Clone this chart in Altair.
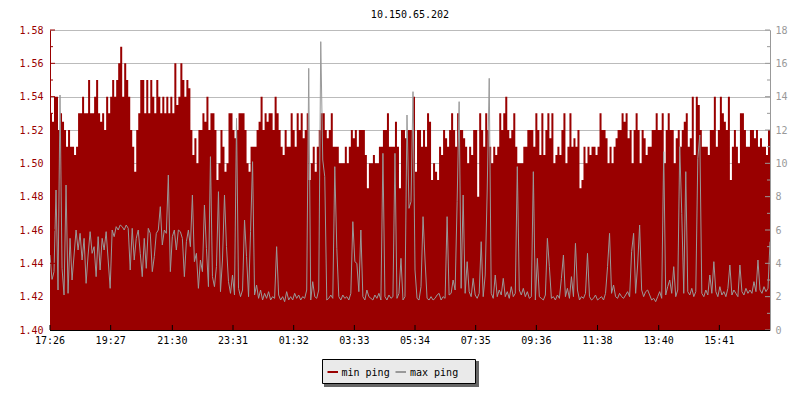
import altair as alt
import pandas as pd

# ---------------- data ----------------
title_text = "10.150.65.202"
series_names = ["min ping", "max ping"]
tick_labels = ["17:26", "19:27", "21:30", "23:31", "01:32", "03:33",
               "05:34", "07:35", "09:36", "11:38", "13:40", "15:41"]
start_time = "2024-01-01 17:26"
step_minutes = 4
left_major = [1.40, 1.42, 1.44, 1.46, 1.48, 1.50, 1.52, 1.54, 1.56, 1.58]
left_minor = [1.41, 1.43, 1.45, 1.47, 1.49, 1.51, 1.53, 1.55, 1.57]
right_major = [0, 2, 4, 6, 8, 10, 12, 14, 16, 18]
right_minor = [1, 3, 5, 7, 9, 11, 13, 15, 17]

min_ping = [
    1.53, 1.525, 1.54, 1.54, 1.52, 1.53, 1.525, 1.52, 1.51, 1.52, 1.51, 1.51, 1.505, 1.51, 1.53, 1.53, 1.54, 1.53, 1.53, 1.55,
    1.53, 1.53, 1.54, 1.55, 1.53, 1.525, 1.53, 1.52, 1.54, 1.53, 1.54, 1.55, 1.54, 1.55, 1.56, 1.57, 1.54, 1.56, 1.55, 1.54,
    1.52, 1.51, 1.495, 1.52, 1.53, 1.55, 1.55, 1.53, 1.55, 1.53, 1.55, 1.54, 1.53, 1.55, 1.54, 1.53, 1.54, 1.53, 1.54, 1.53,
    1.54, 1.53, 1.56, 1.535, 1.54, 1.56, 1.55, 1.54, 1.55, 1.545, 1.52, 1.505, 1.515, 1.50, 1.52, 1.52, 1.53, 1.525, 1.54, 1.52,
    1.53, 1.53, 1.52, 1.49, 1.50, 1.52, 1.51, 1.495, 1.50, 1.53, 1.53, 1.52, 1.515, 1.52, 1.53, 1.53, 1.53, 1.52, 1.50, 1.495,
    1.51, 1.51, 1.51, 1.52, 1.525, 1.54, 1.52, 1.53, 1.525, 1.53, 1.53, 1.52, 1.54, 1.53, 1.52, 1.51, 1.505, 1.52, 1.51, 1.51,
    1.53, 1.52, 1.51, 1.53, 1.52, 1.53, 1.515, 1.52, 1.53, 1.49, 1.50, 1.51, 1.495, 1.51, 1.52, 1.53, 1.53, 1.52, 1.515, 1.52,
    1.53, 1.51, 1.51, 1.51, 1.50, 1.50, 1.50, 1.51, 1.50, 1.51, 1.52, 1.515, 1.52, 1.51, 1.52, 1.52, 1.52, 1.505, 1.485, 1.50,
    1.50, 1.505, 1.50, 1.50, 1.51, 1.51, 1.52, 1.52, 1.53, 1.51, 1.51, 1.51, 1.525, 1.51, 1.485, 1.52, 1.52, 1.515, 1.52, 1.52,
    1.52, 1.54, 1.495, 1.52, 1.52, 1.51, 1.52, 1.51, 1.53, 1.525, 1.49, 1.50, 1.495, 1.49, 1.51, 1.505, 1.52, 1.515, 1.51, 1.52,
    1.53, 1.52, 1.51, 1.53, 1.52, 1.52, 1.515, 1.51, 1.50, 1.51, 1.505, 1.52, 1.52, 1.48, 1.53, 1.52, 1.51, 1.53, 1.52, 1.51,
    1.50, 1.51, 1.505, 1.51, 1.53, 1.52, 1.53, 1.54, 1.52, 1.515, 1.52, 1.53, 1.51, 1.50, 1.50, 1.50, 1.51, 1.51, 1.52, 1.52,
    1.52, 1.51, 1.53, 1.52, 1.505, 1.53, 1.505, 1.52, 1.53, 1.515, 1.53, 1.50, 1.505, 1.51, 1.505, 1.52, 1.53, 1.50, 1.51, 1.53,
    1.51, 1.515, 1.51, 1.52, 1.485, 1.49, 1.51, 1.50, 1.51, 1.505, 1.51, 1.51, 1.505, 1.51, 1.53, 1.52, 1.52, 1.515, 1.50, 1.51,
    1.50, 1.51, 1.515, 1.52, 1.52, 1.53, 1.525, 1.53, 1.515, 1.52, 1.50, 1.52, 1.53, 1.52, 1.50, 1.52, 1.515, 1.505, 1.51, 1.51,
    1.52, 1.52, 1.53, 1.52, 1.52, 1.53, 1.50, 1.52, 1.53, 1.52, 1.52, 1.50, 1.515, 1.52, 1.51, 1.52, 1.525, 1.53, 1.51, 1.515,
    1.54, 1.505, 1.54, 1.535, 1.52, 1.51, 1.51, 1.51, 1.505, 1.52, 1.52, 1.54, 1.51, 1.52, 1.54, 1.53, 1.525, 1.52, 1.54, 1.49,
    1.51, 1.52, 1.51, 1.50, 1.53, 1.53, 1.52, 1.51, 1.51, 1.52, 1.52, 1.515, 1.52, 1.51, 1.515, 1.51, 1.51, 1.505, 1.52, 1.52,
]

max_ping = [
    4.5, 3.0, 3.5, 8.4, 2.4, 14.1, 3.7, 2.1, 8.7, 2.2, 5.5, 3.0, 4.5, 6.0, 4.8, 5.8, 4.2, 5.5, 2.8, 4.5,
    5.9, 4.6, 5.0, 3.2, 5.6, 3.6, 5.5, 4.8, 5.9, 4.2, 2.5, 6.0, 5.6, 6.2, 6.0, 6.3, 6.2, 6.0, 6.3, 6.1,
    3.6, 6.1, 4.2, 5.5, 6.0, 4.6, 3.2, 5.5, 3.7, 6.1, 5.8, 3.5, 4.4, 5.8, 6.0, 7.4, 5.1, 6.0, 5.8, 9.3,
    3.5, 5.6, 6.0, 4.8, 6.0, 5.9, 5.5, 3.2, 5.3, 6.0, 5.0, 8.1, 4.1, 4.6, 2.5, 4.2, 3.5, 7.5, 4.9, 2.6,
    10.4, 3.2, 2.6, 3.8, 8.3, 2.3, 4.2, 8.1, 5.0, 2.9, 2.2, 3.3, 2.1, 12.7, 2.5, 2.0, 2.4, 6.6, 4.4, 2.0,
    5.9, 10.1, 2.1, 2.7, 1.9, 2.4, 1.8, 2.2, 1.9, 2.3, 1.8, 2.0, 1.9, 5.0, 2.1, 1.8, 2.0, 1.7, 2.3, 1.8,
    2.0, 1.8, 2.2, 1.9, 2.1, 1.8, 2.0, 1.9, 2.4, 15.7, 1.8, 2.9, 2.0, 1.9, 2.4, 17.3, 10.2, 9.2, 1.8, 1.9,
    2.1, 1.9, 9.8, 4.9, 2.0, 1.8, 2.1, 1.9, 2.0, 1.8, 2.2, 6.5, 4.1, 4.0, 2.3, 6.0, 2.0, 1.8, 2.4, 2.0,
    1.9, 1.8, 2.1, 1.9, 2.2, 1.8, 10.6, 2.0, 1.8, 2.1, 1.9, 2.0, 10.6, 1.9, 2.2, 4.3, 1.8, 2.0, 12.9, 7.3,
    7.7, 14.3, 3.6, 1.9, 1.8, 2.6, 6.8, 4.2, 1.9, 1.8, 2.0, 1.8, 1.9, 2.1, 2.2, 1.8, 2.0, 1.9, 6.8, 2.1,
    2.2, 3.0, 2.4, 7.7, 13.7, 2.5, 8.1, 2.2, 4.1, 2.3, 2.0, 3.1, 2.1, 1.9, 2.2, 5.3, 2.0, 3.3, 8.4, 15.1,
    2.2, 1.9, 3.3, 2.0, 2.4, 2.1, 3.1, 2.0, 2.3, 1.9, 2.6, 2.0, 2.2, 9.8, 2.4, 2.1, 2.5, 2.0, 2.3, 1.9,
    2.0, 9.5, 1.8, 4.3, 2.0, 1.9, 1.8, 2.1, 5.5, 3.8, 1.9, 2.0, 1.8, 2.1, 1.9, 3.1, 4.5, 2.0, 2.5, 1.9,
    3.2, 2.0, 5.2, 2.4, 1.8, 2.0, 1.9, 2.2, 4.6, 2.0, 1.8, 1.9, 2.1, 1.8, 1.9, 2.0, 1.8, 2.2, 3.8, 5.8,
    2.2, 2.7, 2.0, 1.9, 2.2, 2.0, 1.9, 2.1, 2.3, 2.0, 4.7, 5.8, 2.2, 3.9, 6.3, 2.4, 2.0, 2.3, 2.4, 2.1,
    1.8, 1.9, 1.7, 2.0, 2.3, 1.9, 10.7, 2.1, 2.6, 3.0, 2.2, 3.8, 2.0, 2.4, 11.0, 7.0, 2.2, 9.5, 2.3, 2.1,
    2.5, 2.0, 2.3, 10.3, 11.7, 2.2, 2.0, 2.4, 2.1, 3.3, 2.2, 4.1, 2.3, 2.0, 2.6, 2.1, 2.3, 2.0, 2.5, 3.9,
    2.1, 2.4, 2.2, 2.0, 3.9, 2.3, 2.1, 2.5, 2.2, 2.4, 2.2, 2.9, 2.3, 4.2, 2.4, 2.2, 2.6, 2.3, 2.5, 5.3,
]

# ---------------- helpers ----------------
start = pd.Timestamp(start_time)
times = [start + pd.Timedelta(minutes=step_minutes * i) for i in range(len(min_ping))]
end = times[-1]
FMT = "%Y-%m-%dT%H:%M:%S"


def tick_time(label):
    h, m = label.split(":")
    off = (int(h) * 60 + int(m) - (start.hour * 60 + start.minute)) % 1440
    return start + pd.Timedelta(minutes=off)


def as_dt(ts):
    return alt.DateTime(year=ts.year, month=ts.month, date=ts.day,
                        hours=ts.hour, minutes=ts.minute)


df = pd.DataFrame({
    "time": [ts.strftime(FMT) for ts in times],
    "mn": min_ping,
    "mx": max_ping,
})
ticks_df = pd.DataFrame({
    "time": [tick_time(l).strftime(FMT) for l in tick_labels],
    "label": tick_labels,
})

MONO = "DejaVu Sans Mono"
RED = "#990000"
GRAY = "#999999"
GRID = "#bbbbbb"

xscale = alt.Scale(domain=[as_dt(start), as_dt(end)], nice=False)
lscale = alt.Scale(domain=[1.40, 1.58], nice=False, zero=False)
rscale = alt.Scale(domain=[0, 18], nice=False, zero=False)
cscale = alt.Scale(domain=series_names, range=[RED, GRAY])

left_axis = alt.Axis(orient="left", values=left_major, format=".2f", title=None,
                     grid=True, gridColor=GRID, gridWidth=1, ticks=False,
                     domainColor=RED, labelColor=RED, labelFont=MONO,
                     labelFontSize=10, labelPadding=7)
right_axis = alt.Axis(orient="right", values=right_major, format="d", title=None,
                      grid=False, ticks=False, domainColor=GRAY, labelColor=GRAY,
                      labelFont=MONO, labelFontSize=10, labelPadding=5)

base = alt.Chart(df)

area = base.transform_calculate(series="'min ping'").mark_area(
    interpolate="step-after", clip=True
).encode(
    x=alt.X("time:T", scale=xscale, axis=None),
    y=alt.Y("mn:Q", scale=lscale, axis=left_axis),
    y2=alt.value(300),
    color=alt.Color("series:N", scale=cscale, legend=None),
)

line = base.transform_calculate(series="'max ping'").mark_line(
    interpolate="linear", strokeWidth=1, clip=True
).encode(
    x=alt.X("time:T", scale=xscale, axis=None),
    y=alt.Y("mx:Q", scale=rscale, axis=right_axis),
    color=alt.Color("series:N", scale=cscale, legend=None),
)

lt_major = alt.Chart(pd.DataFrame({"lv": left_major})).mark_rule(color=RED).encode(
    y=alt.Y("lv:Q", scale=lscale, axis=None), x=alt.value(0), x2=alt.value(5))
lt_minor = alt.Chart(pd.DataFrame({"lv": left_minor})).mark_rule(color=RED).encode(
    y=alt.Y("lv:Q", scale=lscale, axis=None), x=alt.value(0), x2=alt.value(3))
rt_major = alt.Chart(pd.DataFrame({"rv": right_major})).mark_rule(color=GRAY).encode(
    y=alt.Y("rv:Q", scale=rscale, axis=None), x=alt.value(715), x2=alt.value(720))
rt_minor = alt.Chart(pd.DataFrame({"rv": right_minor})).mark_rule(color=GRAY).encode(
    y=alt.Y("rv:Q", scale=rscale, axis=None), x=alt.value(717), x2=alt.value(720))

# bottom time axis: baseline, inward ticks and labels
x_domain = alt.Chart(pd.DataFrame({"k": [0]})).mark_rule(color="#000000", strokeWidth=1).encode(
    x=alt.value(0), x2=alt.value(720), y=alt.value(300.5))
xt = alt.Chart(ticks_df).mark_rule(color="#000000").encode(
    x=alt.X("time:T", scale=xscale, axis=None), y=alt.value(295), y2=alt.value(300))
xl = alt.Chart(ticks_df).mark_text(font=MONO, fontSize=10, color="#000000",
                                   baseline="top", align="center").encode(
    x=alt.X("time:T", scale=xscale, axis=None), y=alt.value(306), text="label:N")

# legend frame with drop shadow, swatches and labels
one = pd.DataFrame({"k": [0]})
shadow = alt.Chart(one).mark_rect(color="#666666").encode(
    x=alt.value(274), x2=alt.value(429), y=alt.value(331), y2=alt.value(357))
box = alt.Chart(one).mark_rect(fill="#eaeaea", stroke="#000000", strokeWidth=1).encode(
    x=alt.value(272.5), x2=alt.value(425.5), y=alt.value(329.5), y2=alt.value(353.5))

legend_layers = []
for name, sx, tx in zip(series_names, [277.5, 345.5], [291.5, 360]):
    item = alt.Chart(pd.DataFrame({"series": [name]}))
    legend_layers.append(item.mark_rule(strokeWidth=2).encode(
        x=alt.value(sx), x2=alt.value(sx + 10.5), y=alt.value(342),
        color=alt.Color("series:N", scale=cscale, legend=None)))
    legend_layers.append(item.mark_text(font=MONO, fontSize=10, color="#000000",
                                        align="left", baseline="alphabetic").encode(
        x=alt.value(tx), y=alt.value(345.5), text="series:N"))

chart = alt.layer(
    area, line, lt_major, lt_minor, rt_major, rt_minor,
    x_domain, xt, xl, shadow, box, *legend_layers
).resolve_scale(
    y="independent"
).properties(
    width=720, height=300,
    padding={"left": 42, "top": 22, "right": 22, "bottom": 62},
    autosize=alt.AutoSizeParams(type="none"),
    title=alt.TitleParams(text=title_text, font=MONO, fontSize=10, fontWeight="normal",
                          color="#000000", anchor="middle", offset=-3,
                          baseline="alphabetic", frame="group"),
).configure_view(stroke=None).configure(background="#ffffff")

chart.save("out.html", embed_options={"renderer": "svg", "actions": False})
